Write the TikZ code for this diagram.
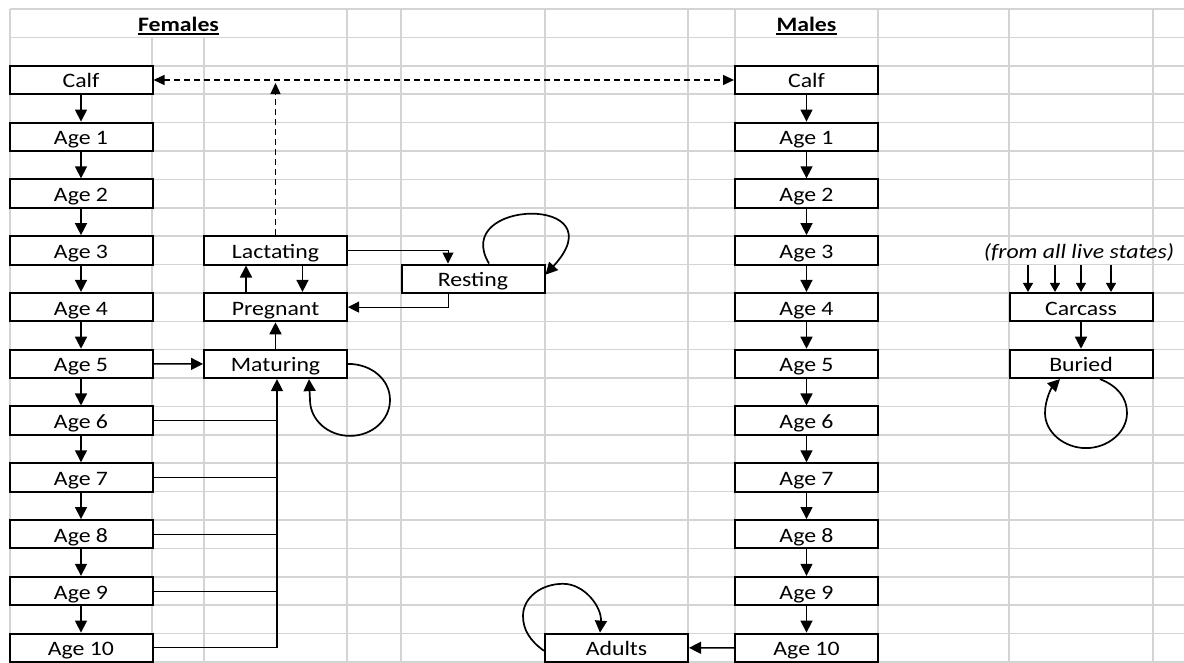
\documentclass[tikz,border=0pt]{standalone}
\usepackage{fontspec}
\setmainfont{Carlito}[FakeStretch=1.16]
\usetikzlibrary{arrows.meta,calc}
\definecolor{gridgray}{RGB}{212,212,212}
\newcommand\dgfont{\fontsize{20.5}{24}\selectfont}
\begin{document}
\begin{tikzpicture}[x=1pt,y=-1pt,
  every node/.style={font=\dgfont},
  statebox/.style={draw, line width=2pt, fill=white, rectangle, minimum width=143pt,
    minimum height=28.39pt, inner sep=0pt, text height=16pt, text depth=0pt},
  gridline/.style={draw=gridgray, line width=1.6pt},
  arr/.style={line width=1.5pt, -{Triangle[length=12pt,width=12pt]}},
  tarr/.style={line width=1pt, -{Triangle[length=11pt,width=11pt]}},
  busarr/.style={line width=1.2pt, -{Triangle[length=12pt,width=12pt]}},
  thinline/.style={line width=1pt},
  carr/.style={line width=1.2pt, -{Triangle[length=9pt,width=10pt]}},
  dashline/.style={line width=1.3pt, dash pattern=on 6pt off 4pt},
  dtip/.style={{Triangle[length=11pt,width=10pt]}-{Triangle[length=11pt,width=10pt]}},
  dtipend/.style={-{Triangle[length=11pt,width=10pt]}},
  selfloop/.style={line width=1.7pt, -{Triangle[length=12pt,width=12pt]}},
]
\useasboundingbox (0,0) rectangle (1184,662);
% spreadsheet grid
\foreach \k in {0,...,23} \draw[gridline] (10,{9+28.391*\k}) -- (1184,{9+28.391*\k});
\foreach \xx in {10,347,401,545,688,735,878,1009,1153} \draw[gridline] (\xx,9) -- (\xx,662);
\foreach \xx in {152,204} \draw[gridline] (\xx,37.39) -- (\xx,662);

% headers
\node[anchor=base, inner sep=0pt, font=\dgfont\bfseries] (hf) at (178.5,31.7) {Females};
\draw[line width=1.8pt] ($(hf.base west)+(0,2.3)$) -- ($(hf.base east)+(0,2.3)$);
\node[anchor=base, inner sep=0pt, font=\dgfont\bfseries] (hm) at (806.5,31.7) {Males};
\draw[line width=1.8pt] ($(hm.base west)+(0,2.3)$) -- ($(hm.base east)+(0,2.3)$);

% age columns
\foreach \i/\t in {0/Calf,1/Age 1,2/Age 2,3/Age 3,4/Age 4,5/Age 5,6/Age 6,7/Age 7,8/Age 8,9/Age 9,10/Age 10} {
  \node[statebox] (f\i) at (81,{9+28.391*(2*\i+2.5)}) {\t};
  \node[statebox] (m\i) at (806.5,{9+28.391*(2*\i+2.5)}) {\t};
}
\foreach \i [evaluate=\i as \j using int(\i+1)] in {0,...,9} {
  \draw[arr] (f\i) -- (f\j);
  \draw[arr] (m\i) -- (m\j);
}

% female reproductive states
\node[statebox] (lac) at (275.5,250.3) {Lactating};
\node[statebox] (preg) at (275.5,307.1) {Pregnant};
\node[statebox] (mat) at (275.5,363.9) {Maturing};
\node[statebox] (rest) at (473,278.7) {Resting};
\node[statebox] (ad) at (616.5,647.8) {Adults};
\node[statebox] (car) at (1081,307.1) {Carcass};
\node[statebox] (bu) at (1081,363.9) {Buried};
\node[anchor=base, inner sep=0pt, font=\dgfont\itshape] (lbl) at (1079,258) {(from all live states)};

% dashed links
\draw[dashline, dtip] (f0) -- (m0);
\coordinate (dtop) at (275.5,83);
\draw[dashline, dtipend] (lac.north) -- (dtop);

% female transitions
\draw[arr] ($(preg.north)+(-29.5,0)$) -- ($(lac.south)+(-29.5,0)$);
\draw[arr] ($(lac.south)+(27,0)$) -- ($(preg.north)+(27,0)$);
\draw[arr] (mat) -- (preg);
\draw[arr] (f5) -- (mat);
\draw[tarr] (lac.east) -| ($(rest.north)+(-25,0)$);
\draw[tarr] ($(rest.south)+(-25,0)$) |- (preg.east);

\coordinate (bus) at (277,0);
\foreach \i in {6,7,8,9} \draw[thinline] (f\i.east) -- (f\i.east -| bus);
\draw[busarr] (f10.east) -| ($(mat.south)+(1.5,0)$);

% self loops
\draw[selfloop] (mat.east) .. controls +(24,0) and +(0,-20) .. ++(42,36)
  .. controls +(0,20) and +(22,0) .. ++(-40,36)
  .. controls +(-22,0) and +(0,20) .. ++(-40,-36) -- ($(mat.south)+(33.5,0)$);
\draw[selfloop] ($(rest.north)+(16,0)$) .. controls +(-39,-65) and +(74,-80) .. ($(rest.east)+(0,-4)$);
\draw[selfloop] ($(ad.west)+(0,3)$) .. controls +(-14,-10) and +(0,14) .. ++(-21,-35)
  .. controls +(0,-18) and +(-22,0) .. ++(40,-32)
  .. controls +(22,0) and +(2,-25) .. ($(ad.north)+(-16.5,0)$);
\draw[selfloop] ($(bu.south)+(19,0)$) .. controls +(18,7) and +(0,-15) .. ++(27,34)
  .. controls +(0,19) and +(22,0) .. ++(-41,35)
  .. controls +(-22,0) and +(0,19) .. ++(-41,-35)
  .. controls +(0,-14) and +(-8,8) .. ($(bu.south)+(-21,0)$);

% male / dead states
\draw[arr] (m10) -- (ad);
\foreach \xx [count=\n] in {1028,1055,1081,1111} {
  \coordinate (cs\n) at (\xx,265);
  \draw[carr] (cs\n) -- (cs\n |- car.north);
}
\draw[arr] (car) -- (bu);
\end{tikzpicture}
\end{document}
